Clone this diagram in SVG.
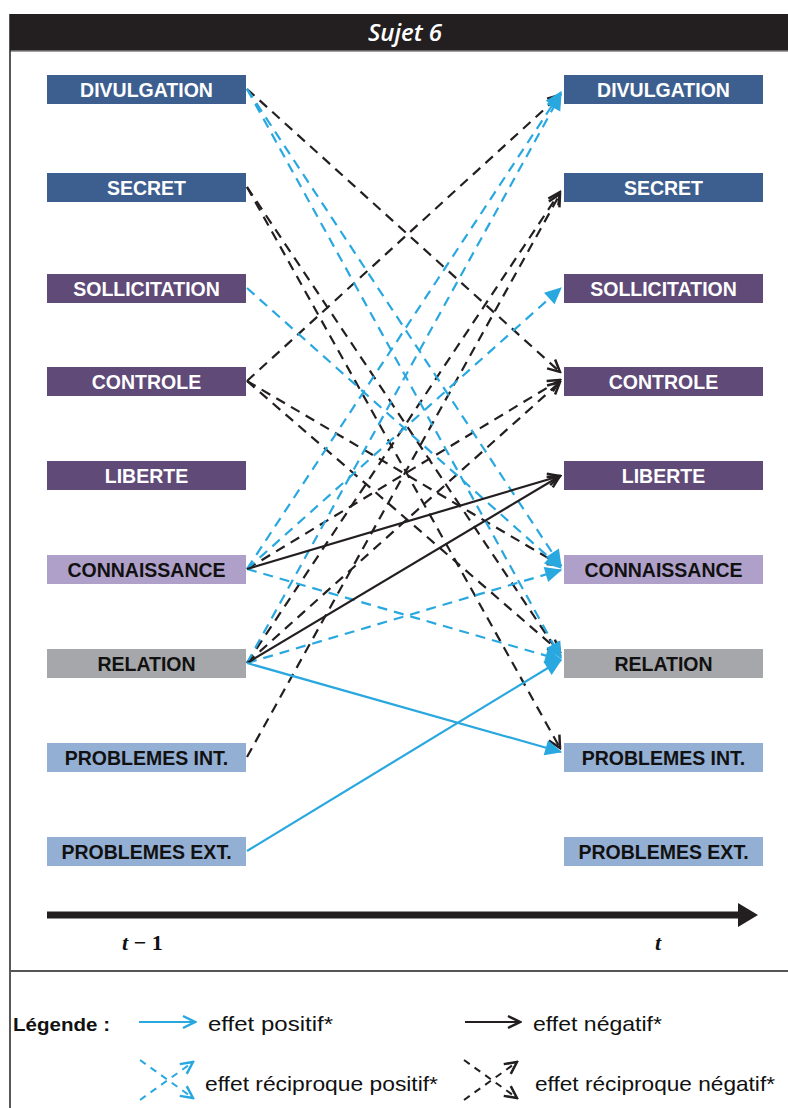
<svg xmlns="http://www.w3.org/2000/svg" width="788" height="1108" viewBox="0 0 788 1108">
<defs>
<style>
.lbl{font-family:"Liberation Sans",Arial,sans-serif;font-weight:bold;font-size:19.5px;text-anchor:middle}
.w{fill:#ffffff}.k{fill:#111111}
.bd{stroke:#231f20;stroke-width:2.2;stroke-dasharray:10 7;fill:none;marker-end:url(#ak)}
.cd{stroke:#29a8e0;stroke-width:2.2;stroke-dasharray:10 7;fill:none;marker-end:url(#ab)}
.bs{stroke:#231f20;stroke-width:2.2;fill:none;marker-end:url(#ak)}
.cs{stroke:#29a8e0;stroke-width:2.2;fill:none;marker-end:url(#ab)}
.leg{font-family:"Liberation Sans",Arial,sans-serif;font-size:21px;fill:#111}
</style>
<marker id="ak" viewBox="0 0 16 16" markerWidth="16" markerHeight="16" refX="14" refY="8" orient="auto" markerUnits="userSpaceOnUse">
<path d="M2,2 L14,8 L2,14" fill="none" stroke="#231f20" stroke-width="2.5" stroke-dasharray="none"/>
</marker>
<marker id="ab" viewBox="0 0 16 16" markerWidth="18" markerHeight="18" refX="15" refY="8" orient="auto" markerUnits="userSpaceOnUse">
<path d="M1,1 L16,8 L1,15 z" fill="#29a8e0" stroke="none"/>
</marker>
<marker id="akl" viewBox="0 0 16 16" markerWidth="16" markerHeight="16" refX="14" refY="8" orient="auto" markerUnits="userSpaceOnUse">
<path d="M2,2 L14,8 L2,14" fill="none" stroke="#231f20" stroke-width="2.5"/>
</marker>
<marker id="abl" viewBox="0 0 16 16" markerWidth="16" markerHeight="16" refX="14" refY="8" orient="auto" markerUnits="userSpaceOnUse">
<path d="M2,2 L14,8 L2,14" fill="none" stroke="#29a8e0" stroke-width="2.5"/>
</marker>
<marker id="axh" viewBox="0 0 20 24" markerWidth="20" markerHeight="24" refX="2" refY="12" orient="auto" markerUnits="userSpaceOnUse">
<path d="M0,0 L20,12 L0,24 z" fill="#231f20"/>
</marker>
</defs>
<rect width="788" height="1108" fill="#ffffff"/>
<g id="frame">
<rect x="10" y="14" width="790" height="37" fill="#231f20"/>
<text x="405" y="41" font-family="'Open Sans','Liberation Sans',sans-serif" font-style="italic" font-weight="600" font-size="24" fill="#ffffff" text-anchor="middle">Sujet 6</text>
<line x1="10" y1="51" x2="788" y2="51" stroke="#808080" stroke-width="1.5"/>
<line x1="10" y1="14" x2="10" y2="1108" stroke="#231f20" stroke-width="1.5"/>
<line x1="10" y1="971" x2="788" y2="971" stroke="#555" stroke-width="2"/>
</g>
<g id="left-nodes">
<g id="l-divulgation"><rect x="47" y="75" width="199" height="29" fill="#3d5f8f"/><text class="lbl w" x="146.5" y="97">DIVULGATION</text></g>
<g id="l-secret"><rect x="47" y="173" width="199" height="29" fill="#3d5f8f"/><text class="lbl w" x="146.5" y="195">SECRET</text></g>
<g id="l-sollicitation"><rect x="47" y="274" width="199" height="29" fill="#604a78"/><text class="lbl w" x="146.5" y="296">SOLLICITATION</text></g>
<g id="l-controle"><rect x="47" y="367" width="199" height="29" fill="#604a78"/><text class="lbl w" x="146.5" y="389">CONTROLE</text></g>
<g id="l-liberte"><rect x="47" y="461" width="199" height="29" fill="#604a78"/><text class="lbl w" x="146.5" y="483">LIBERTE</text></g>
<g id="l-connaissance"><rect x="47" y="555" width="199" height="29" fill="#afa0c9"/><text class="lbl k" x="146.5" y="577">CONNAISSANCE</text></g>
<g id="l-relation"><rect x="47" y="649" width="199" height="29" fill="#a6a7aa"/><text class="lbl k" x="146.5" y="671">RELATION</text></g>
<g id="l-probint"><rect x="47" y="743" width="199" height="29" fill="#93afd3"/><text class="lbl k" x="146.5" y="765">PROBLEMES INT.</text></g>
<g id="l-probext"><rect x="47" y="837" width="199" height="29" fill="#93afd3"/><text class="lbl k" x="146.5" y="859">PROBLEMES EXT.</text></g>
</g>
<g id="right-nodes">
<g id="r-divulgation"><rect x="564" y="75" width="199" height="29" fill="#3d5f8f"/><text class="lbl w" x="663.5" y="97">DIVULGATION</text></g>
<g id="r-secret"><rect x="564" y="173" width="199" height="29" fill="#3d5f8f"/><text class="lbl w" x="663.5" y="195">SECRET</text></g>
<g id="r-sollicitation"><rect x="564" y="274" width="199" height="29" fill="#604a78"/><text class="lbl w" x="663.5" y="296">SOLLICITATION</text></g>
<g id="r-controle"><rect x="564" y="367" width="199" height="29" fill="#604a78"/><text class="lbl w" x="663.5" y="389">CONTROLE</text></g>
<g id="r-liberte"><rect x="564" y="461" width="199" height="29" fill="#604a78"/><text class="lbl w" x="663.5" y="483">LIBERTE</text></g>
<g id="r-connaissance"><rect x="564" y="555" width="199" height="29" fill="#afa0c9"/><text class="lbl k" x="663.5" y="577">CONNAISSANCE</text></g>
<g id="r-relation"><rect x="564" y="649" width="199" height="29" fill="#a6a7aa"/><text class="lbl k" x="663.5" y="671">RELATION</text></g>
<g id="r-probint"><rect x="564" y="743" width="199" height="29" fill="#93afd3"/><text class="lbl k" x="663.5" y="765">PROBLEMES INT.</text></g>
<g id="r-probext"><rect x="564" y="837" width="199" height="29" fill="#93afd3"/><text class="lbl k" x="663.5" y="859">PROBLEMES EXT.</text></g>
</g>
<g id="connectors">
<line class="bd" x1="247" y1="89" x2="560" y2="372"/>
<line class="bd" x1="247" y1="381" x2="560" y2="95"/>
<line class="bd" x1="247" y1="187" x2="560" y2="655"/>
<line class="bd" x1="247" y1="663" x2="560" y2="192"/>
<line class="bd" x1="247" y1="187" x2="560" y2="748"/>
<line class="bd" x1="247" y1="757" x2="560" y2="194"/>
<line class="bd" x1="247" y1="381" x2="560" y2="565"/>
<line class="bd" x1="247" y1="569" x2="560" y2="380"/>
<line class="bd" x1="247" y1="381" x2="560" y2="652"/>
<line class="bd" x1="247" y1="663" x2="560" y2="382"/>
<line class="cd" x1="247" y1="89" x2="561" y2="566"/>
<line class="cd" x1="247" y1="569" x2="561" y2="92"/>
<line class="cd" x1="247" y1="89" x2="561" y2="658"/>
<line class="cd" x1="247" y1="663" x2="561" y2="94"/>
<line class="cd" x1="247" y1="288" x2="561" y2="568"/>
<line class="cd" x1="247" y1="569" x2="561" y2="288"/>
<line class="cd" x1="247" y1="569" x2="561" y2="660"/>
<line class="cd" x1="247" y1="663" x2="561" y2="570"/>
<line class="bs" x1="247" y1="569" x2="560" y2="476"/>
<line class="bs" x1="247" y1="663" x2="560" y2="476"/>
<line class="cs" x1="247" y1="663" x2="561" y2="752"/>
<line class="cs" x1="247" y1="851" x2="561" y2="660"/>
</g>
<g id="axis">
<line x1="47" y1="915" x2="740" y2="915" stroke="#231f20" stroke-width="7" marker-end="url(#axh)"/>
<text x="122" y="950" font-family="'Liberation Serif',serif" font-weight="bold" font-size="22" fill="#111"><tspan font-style="italic">t</tspan> − 1</text>
<text x="655" y="950" font-family="'Liberation Serif',serif" font-weight="bold" font-style="italic" font-size="22" fill="#111">t</text>
</g>
<g id="legend">
<text x="13" y="1031" font-family="'Liberation Sans',Arial,sans-serif" font-weight="bold" font-size="19" fill="#111" textLength="97" lengthAdjust="spacingAndGlyphs">Légende :</text>
<line x1="139" y1="1022" x2="195" y2="1022" stroke="#29a8e0" stroke-width="2.2" marker-end="url(#abl)"/>
<text class="leg" x="208" y="1031" textLength="125" lengthAdjust="spacingAndGlyphs">effet positif*</text>
<line x1="465" y1="1022" x2="520" y2="1022" stroke="#231f20" stroke-width="2.2" marker-end="url(#akl)"/>
<text class="leg" x="533" y="1031" textLength="129" lengthAdjust="spacingAndGlyphs">effet négatif*</text>
<line x1="140" y1="1060" x2="193" y2="1098" stroke="#29a8e0" stroke-width="2" stroke-dasharray="7 6" marker-end="url(#abl)"/>
<line x1="140" y1="1100" x2="193" y2="1062" stroke="#29a8e0" stroke-width="2" stroke-dasharray="7 6" marker-end="url(#abl)"/>
<text class="leg" x="205" y="1091" textLength="233" lengthAdjust="spacingAndGlyphs">effet réciproque positif*</text>
<line x1="464" y1="1060" x2="517" y2="1098" stroke="#231f20" stroke-width="2" stroke-dasharray="7 6" marker-end="url(#akl)"/>
<line x1="464" y1="1100" x2="517" y2="1062" stroke="#231f20" stroke-width="2" stroke-dasharray="7 6" marker-end="url(#akl)"/>
<text class="leg" x="535" y="1091" textLength="240" lengthAdjust="spacingAndGlyphs">effet réciproque négatif*</text>
</g>
</svg>
